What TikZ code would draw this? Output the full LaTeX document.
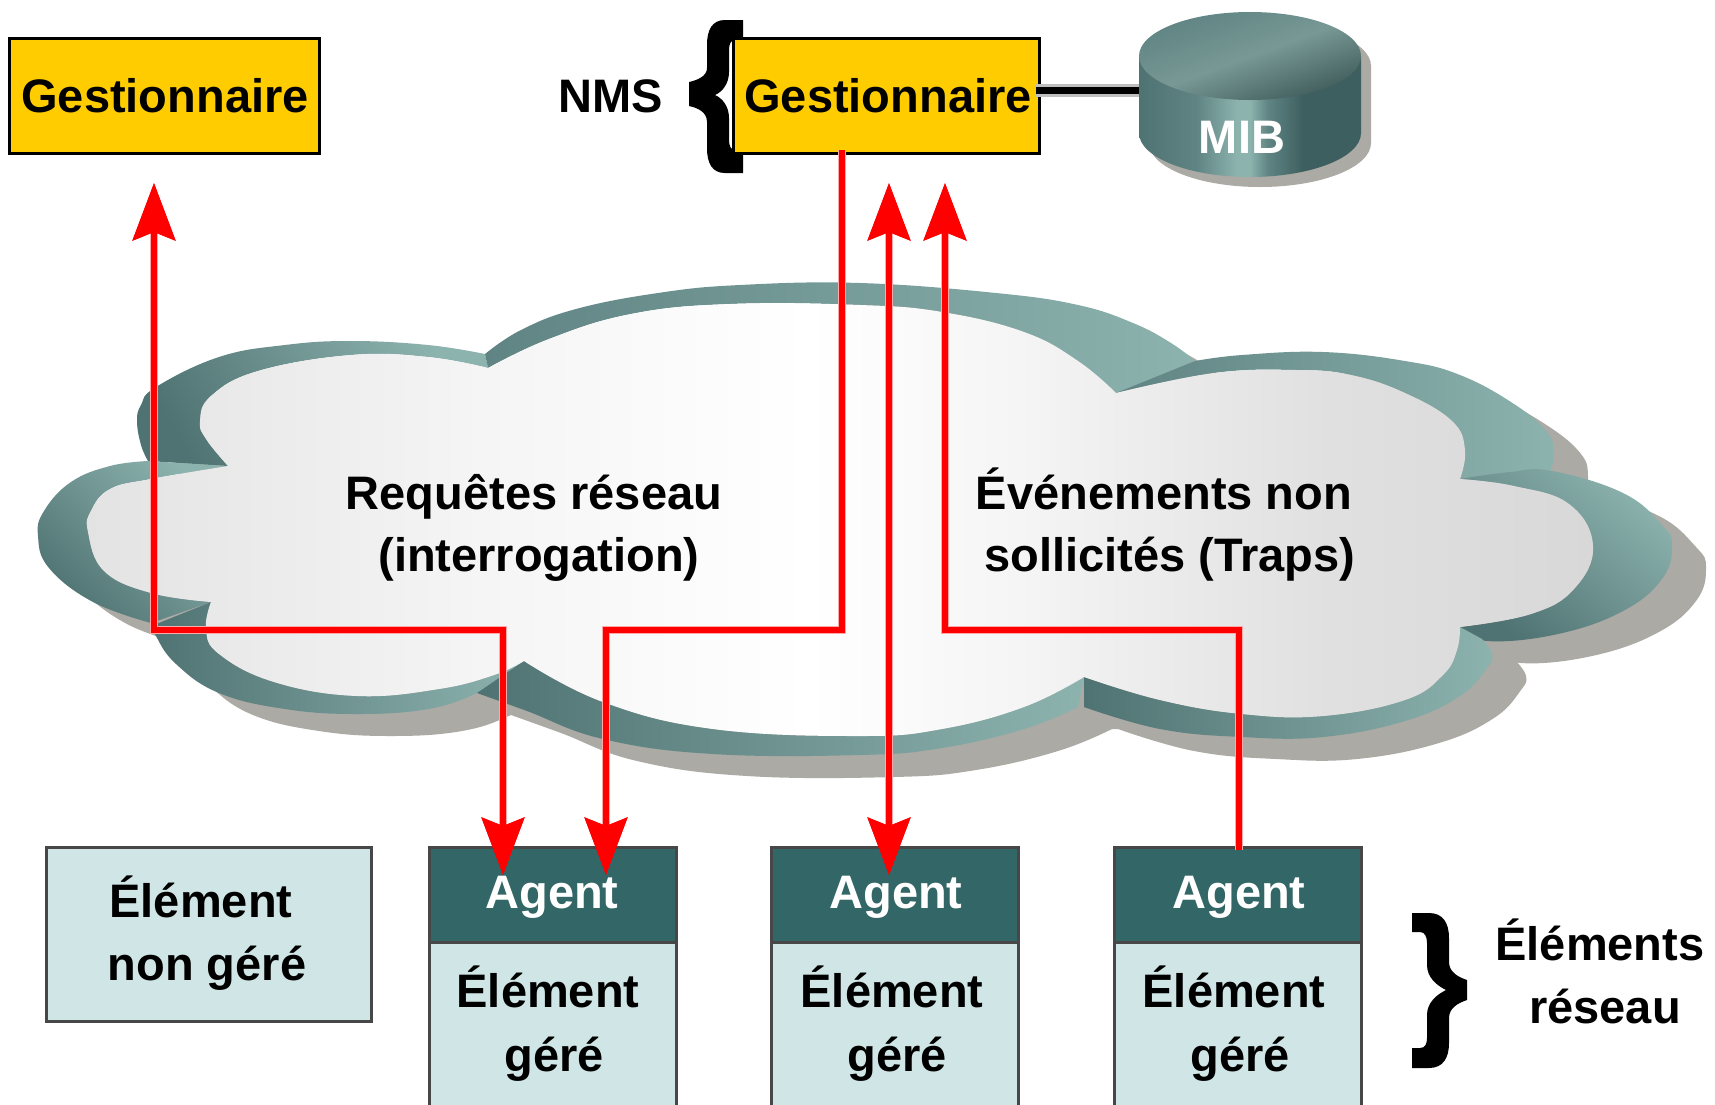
\documentclass[tikz,border=0pt]{standalone}
\usepackage{fontspec}
\setmainfont{Liberation Sans}
\usetikzlibrary{arrows.meta}
\definecolor{gyellow}{HTML}{FFCC00}
\definecolor{ltteal}{HTML}{D0E6E6}
\definecolor{dkteal}{HTML}{336666}
\definecolor{shadowgray}{HTML}{ABAAA5}
\definecolor{bandlight}{HTML}{8DB3AF}
\definecolor{banddark}{HTML}{4F7372}
\definecolor{bandmid}{HTML}{5F8483}
\definecolor{cyldark}{HTML}{3E5F5F}
\definecolor{halo}{HTML}{FFAAAA}
\definecolor{faceleft}{HTML}{E3E3E3}
\definecolor{faceright}{HTML}{D8D8D8}
\pgfdeclarehorizontalshading{cloudfill}{100bp}{color(0bp)=(faceleft);color(25bp)=(faceleft);color(38bp)=(white!96!black);color(49bp)=(white);color(56bp)=(white!96!black);color(66bp)=(white!88!black);color(75bp)=(faceright);color(100bp)=(faceright)}
\pgfdeclarehorizontalshading{cylside}{100bp}{color(0bp)=(banddark);color(25bp)=(banddark);color(38bp)=(bandmid);color(47bp)=(bandlight);color(50bp)=(bandlight);color(54bp)=(bandmid);color(62bp)=(cyldark);color(75bp)=(cyldark);color(100bp)=(cyldark)}
\def\oA{-- plot[smooth,tension=.7] coordinates {(148,461)(141,445)(137,421)(141,405)(156,387)(219,357)(285,345)(351,341)(428,345)(485,354)}}
\def\iA{-- plot[smooth,tension=.7] coordinates {(488,368)(428,357)(351,355)(258,371)(211,396)(200,421)(206,439)(228,466)}}
\def\oG{-- plot[smooth,tension=.7] coordinates {(485,354)(521,330)(576,309)(658,293)(740,285)(860,283)(996,293)(1078,305)(1133,323)(1171,343)(1195,361)}}
\def\iG{-- plot[smooth,tension=.7] coordinates {(1116,393)(1078,361)(1024,332)(942,312)(860,305)(730,304)(631,314)(549,339)(488,368)}}
\def\oF{-- plot[smooth,tension=.7] coordinates {(1195,361)(1242,355)(1323,352)(1405,361)(1460,375)(1514,404)(1547,432)(1554,454)(1550,471)}}
\def\iF{-- plot[smooth,tension=.7] coordinates {(1460,479)(1465,450)(1452,421)(1405,393)(1351,375)(1296,370)(1214,373)(1116,393)}}
\def\oE{-- plot[smooth,tension=.7] coordinates {(1460,479)(1510,472)(1552,471)(1623,493)(1662,525)(1672,546)(1662,579)(1623,611)(1558,634)(1487,641)(1460,627)}}
\def\iE{-- plot[smooth,tension=.7] coordinates {(1460,627)(1531,614)(1574,589)(1593,546)(1569,504)(1514,486)(1460,479)}}
\def\oD{-- plot[smooth,tension=.7] coordinates {(1482,639)(1492,654)(1487,668)(1460,696)(1405,721)(1323,737)(1242,737)(1160,729)(1084,707)}}
\def\iD{-- plot[smooth,tension=.7] coordinates {(1084,677)(1160,700)(1242,714)(1323,716)(1405,700)(1443,675)(1457,650)(1460,627)}}
\def\oH{-- plot[smooth,tension=.7] coordinates {(1078,707)(1024,729)(942,748)(860,755)(713,754)(603,739)(527,711)(477,693)}}
\def\iH{-- plot[smooth,tension=.7] coordinates {(524,661)(603,702)(713,729)(860,736)(942,729)(1024,707)(1084,677)}}
\def\oC{-- plot[smooth,tension=.7] coordinates {(505,675)(477,693)(428,709)(357,714)(285,709)(219,693)(176,664)(156,636)(154,625)}}
\def\iC{-- plot[smooth,tension=.7] coordinates {(211,602)(206,629)(219,654)(274,682)(357,696)(439,689)(494,675)(524,661)}}
\def\oL{-- plot[smooth,tension=.7] coordinates {(151,623)(93,602)(49,568)(38,536)(44,511)(71,482)(110,466)(148,461)}}
\def\iL{-- plot[smooth,tension=.7] coordinates {(228,466)(151,479)(110,489)(91,511)(88,532)(104,571)(151,593)(211,602)}}
\tikzset{
  lbl/.style={font=\fontsize{47}{47}\selectfont\bfseries,anchor=base,inner sep=0pt,text=black},
  wlbl/.style={lbl,text=white},
  gbox/.style={draw=black,line width=3pt,fill=gyellow,anchor=north west,inner sep=0pt},
  ebox/.style={draw=black!72,line width=3pt,fill=ltteal,anchor=north west,inner sep=0pt},
  abox/.style={draw=black!72,line width=3pt,fill=dkteal,anchor=north west,inner sep=0pt},
  redhalo/.style={draw=halo,line width=8pt},
  redline/.style={draw=red,line width=6pt},
  redtip/.tip={Stealth[length=57pt,width=42pt,inset=8pt,fill=red,color=red]},
  shadowfill/.style={fill=shadowgray},
}
\begin{document}
\begin{tikzpicture}[x=1pt,y=-1pt]
\useasboundingbox (0,0) rectangle (1715,1104);
\clip (0,0) rectangle (1715,1104);
\fill[white] (0,0) rectangle (1715,1104);
% cloud shadow
\begin{scope}[shift={(34,22)}]
\fill[shadowfill] (148,461) \oA \oG \oF \oE \oD \oH \oC \oL -- cycle;
\end{scope}
% cloud band
\shade[top color=bandlight,bottom color=banddark,shading angle=-60] (148,461) \oA \iA -- cycle;
\shade[left color=bandmid,right color=bandlight] (485,354) \oG \iG -- cycle;
\shade[left color=bandmid,right color=bandlight] (1195,361) \oF \iF -- cycle;
\shade[top color=bandlight,bottom color=banddark,shading angle=-40] (1460,479) \oE \iE -- cycle;
\shade[left color=banddark,right color=bandlight] (505,675) \oC \iC -- cycle;
\shade[left color=banddark,right color=bandlight] (1078,707) \oH \iH -- cycle;
\shade[left color=banddark,right color=bandlight] (1482,639) \oD \iD -- cycle;
\shade[top color=bandlight,bottom color=banddark,shading angle=-45] (151,623) \oL \iL -- cycle;
% cloud face
\shade[shading=cloudfill] (1116,393) \iG \iA \iL \iC \iH \iD \iE \iF -- cycle;
% braces
\fill[black] (743,20) -- (725,20) .. controls (712,20) and (707,30) .. (707,45) -- (707,68)
  .. controls (707,76) and (698,80) .. (689,82) -- (689,106) .. controls (698,108) and (707,112) .. (707,122)
  -- (707,148) .. controls (707,163) and (712,173) .. (725,173) -- (743,173) -- (743,150) -- (735,150)
  .. controls (731,150) and (729,146) .. (729,140) -- (729,118) .. controls (729,106) and (722,98) .. (715,95)
  .. controls (722,92) and (729,84) .. (729,72) -- (729,50) .. controls (729,44) and (731,40) .. (735,40) -- (743,40) -- cycle;
\begin{scope}[shift={(-4,0)}]
\fill[black] (1416,913) -- (1433,913) .. controls (1447,913) and (1453,923) .. (1453,938) -- (1453,962)
  .. controls (1453,972) and (1462,977) .. (1471,980) -- (1471,1000) .. controls (1462,1003) and (1453,1008) .. (1453,1018)
  -- (1453,1043) .. controls (1453,1058) and (1447,1068) .. (1433,1068) -- (1416,1068) -- (1416,1048) -- (1424,1048)
  .. controls (1429,1048) and (1431,1044) .. (1431,1038) -- (1431,1015) .. controls (1431,1003) and (1440,995) .. (1450,990)
  .. controls (1440,985) and (1431,977) .. (1431,965) -- (1431,943) .. controls (1431,937) and (1429,932) .. (1424,932) -- (1416,932) -- cycle;
\end{scope}
% boxes
\node[gbox,minimum width=310pt,minimum height=115pt] (mgr1) at (8,37) {};
\node[gbox,minimum width=306pt,minimum height=115pt] (mgr2) at (732,37) {};
\node[ebox,minimum width=325pt,minimum height=174pt] (unmanaged) at (45,846) {};
\node[ebox,minimum width=247pt,minimum height=170pt] (elem1) at (428,941) {};
\node[ebox,minimum width=247pt,minimum height=170pt] (elem2) at (770,941) {};
\node[ebox,minimum width=247pt,minimum height=170pt] (elem3) at (1113,941) {};
\node[abox,minimum width=247pt,minimum height=95pt] (agent1) at (428,846) {};
\node[abox,minimum width=247pt,minimum height=95pt] (agent2) at (770,846) {};
\node[abox,minimum width=247pt,minimum height=95pt] (agent3) at (1113,846) {};
% MIB
\coordinate (mibleft) at (1145,90);
\coordinate (mgrright) at (1036,90);
\draw[line width=13pt,draw=black!25] (mgrright) -- (mibleft);
\draw[line width=7pt,draw=black] (mgrright) -- (mibleft);
\fill[shadowgray] (1149,66) -- (1149,143) arc[start angle=180,end angle=360,x radius=111,y radius=-44] -- (1371,66) arc[start angle=0,end angle=180,x radius=111,y radius=-44] -- cycle;
\shade[shading=cylside] (1139,56) -- (1139,133) arc[start angle=180,end angle=360,x radius=111,y radius=-44] -- (1361,56) -- cycle;
\shade[top color=bandmid,bottom color=banddark!80!black,middle color=bandlight!85!black,shading angle=20] (1250,56) ellipse[x radius=111,y radius=44];
\node[wlbl] (mibtxt) at (1242,153) {MIB};
% labels
\node[lbl] (t1) at (165,112) {Gestionnaire};
\node[lbl] (t2) at (888,112) {Gestionnaire};
\node[lbl] (nms) at (611,112) {NMS};
\node[lbl] (q1) at (534,509) {Requêtes réseau};
\node[lbl] (q2) at (539,571) {(interrogation)};
\node[lbl] (ev1) at (1164,509) {Événements non};
\node[lbl] (ev2) at (1170,571) {sollicités (Traps)};
\node[lbl] (u1) at (201,917) {Élément};
\node[lbl] (u2) at (207,980) {non géré};
\node[lbl] (e11) at (548,1007) {Élément};
\node[lbl] (e12) at (554,1071) {géré};
\node[lbl] (e21) at (892,1007) {Élément};
\node[lbl] (e22) at (897,1071) {géré};
\node[lbl] (e31) at (1234,1007) {Élément};
\node[lbl] (e32) at (1240,1071) {géré};
\node[lbl] (n1) at (1600,960) {Éléments};
\node[lbl] (n2) at (1605,1023) {réseau};
\node[wlbl] (a1) at (552,908) {Agent};
\node[wlbl] (a2) at (896,908) {Agent};
\node[wlbl] (a3) at (1239,908) {Agent};
% connectors
\coordinate (m1in) at (154,183);
\coordinate (a1in) at (503,875);
\coordinate (a1out) at (606,875);
\coordinate (m2out) at (842,150);
\coordinate (m2a) at (889,183);
\coordinate (a2t) at (889,875);
\coordinate (m2b) at (945,183);
\coordinate (a3out) at (1239,850);
\coordinate (j1) at (154,630);
\coordinate (j2) at (503,630);
\coordinate (j3) at (606,630);
\coordinate (j4) at (842,630);
\coordinate (j5) at (945,630);
\coordinate (j6) at (1239,630);
\foreach \st in {redhalo,redline}{
  \draw[\st,-{redtip}] (j2) -- (j1) -- (m1in);
  \draw[\st,-{redtip}] (j1) -- (j2) -- (a1in);
  \draw[\st,-{redtip}] (m2out) -- (j4) -- (j3) -- (a1out);
  \draw[\st,{redtip}-{redtip}] (m2a) -- (a2t);
  \draw[\st,-{redtip}] (a3out) -- (j6) -- (j5) -- (m2b);
}
\end{tikzpicture}
\end{document}
